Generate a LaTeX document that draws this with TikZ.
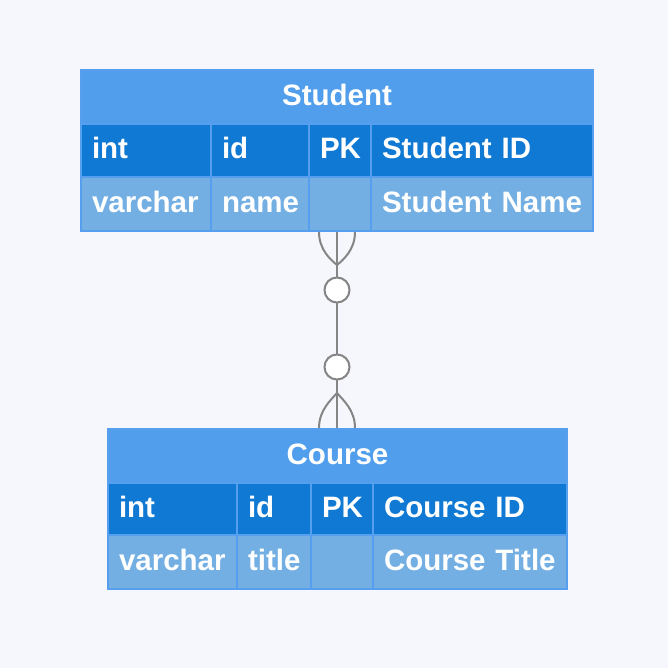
\documentclass[tikz,border=0pt]{standalone}
\usepackage{fontspec}
\setmainfont{Liberation Sans}
\usetikzlibrary{calc}

\definecolor{erbg}{HTML}{F5F7FC}
\definecolor{ertitle}{HTML}{519FEC}
\definecolor{erhead}{HTML}{0F79D3}
\definecolor{errow}{HTML}{73AFE3}
\definecolor{erborder}{HTML}{559FEE}
\definecolor{erline}{HTML}{858585}

\begin{document}
\begin{tikzpicture}[
                    x=1pt, y=-1pt,
                    font=\fontsize{29.5}{34}\selectfont\bfseries,
                    cell/.style={draw=erborder, line width=2pt, anchor=north west,
                                 inner xsep=11pt, inner ysep=0pt, align=left, text=white,
                                 text height=21pt, text depth=4pt},
                    titlecell/.style={cell, fill=ertitle, align=center, inner xsep=0pt},
                    headcell/.style={cell, fill=erhead},
                    rowcell/.style={cell, fill=errow},
                    rel/.style={draw=erline, line width=2pt},
                    optional/.style={circle, draw=erline, line width=2pt, fill=white,
                                     minimum size=25pt, inner sep=0pt}
                    ]

                    \fill[erbg] (0,0) rectangle (668,668);

                    % Student
                    \node [titlecell, minimum width=512pt, minimum height=54pt] (s-title) at (80,69) {Student};
                    \node [headcell, text width=108pt, minimum height=53pt] (s-type1) at (80,123) {int};
                    \node [headcell, text width=76pt, minimum height=53pt] (s-name1) at (210,123) {id};
                    \node [headcell, text width=40pt, minimum height=53pt] (s-key1) at (308,123) {PK};
                    \node [headcell, text width=200pt, minimum height=53pt] (s-desc1) at (370,123) {Student ID};
                    \node [rowcell, text width=108pt, minimum height=54pt] (s-type2) at (80,176) {varchar};
                    \node [rowcell, text width=76pt, minimum height=54pt] (s-name2) at (210,176) {name};
                    \node [rowcell, text width=40pt, minimum height=54pt] (s-key2) at (308,176) {};
                    \node [rowcell, text width=200pt, minimum height=54pt] (s-desc2) at (370,176) {Student Name};

                    % Course
                    \node [titlecell, minimum width=459pt, minimum height=54pt] (c-title) at (107,428) {Course};
                    \node [headcell, text width=107pt, minimum height=52pt] (c-type1) at (107,482) {int};
                    \node [headcell, text width=52pt, minimum height=52pt] (c-name1) at (236,482) {id};
                    \node [headcell, text width=40pt, minimum height=52pt] (c-key1) at (310,482) {PK};
                    \node [headcell, text width=172pt, minimum height=52pt] (c-desc1) at (372,482) {Course ID};
                    \node [rowcell, text width=107pt, minimum height=54pt] (c-type2) at (107,534) {varchar};
                    \node [rowcell, text width=52pt, minimum height=54pt] (c-name2) at (236,534) {title};
                    \node [rowcell, text width=40pt, minimum height=54pt] (c-key2) at (310,534) {};
                    \node [rowcell, text width=172pt, minimum height=54pt] (c-desc2) at (372,534) {Course Title};

                    % zero-or-many on both ends
                    \coordinate (s-end) at (s-title.center |- s-key2.south);
                    \coordinate (c-end) at (s-end |- c-title.north);

                    \draw[rel] (s-end) -- (c-end);
                    \draw[rel] ($(s-end)+(-18,0)$) .. controls ($(s-end)+(-18,18)$) and ($(s-end)+(-6,28)$) .. ($(s-end)+(0,33)$)
                               .. controls ($(s-end)+(6,28)$) and ($(s-end)+(18,18)$) .. ($(s-end)+(18,0)$);
                    \draw[rel] ($(c-end)+(-18,0)$) .. controls ($(c-end)+(-18,-18)$) and ($(c-end)+(-6,-28)$) .. ($(c-end)+(0,-35)$)
                               .. controls ($(c-end)+(6,-28)$) and ($(c-end)+(18,-18)$) .. ($(c-end)+(18,0)$);
                    \node [optional] (s-ring) at ($(s-end)+(0,58)$) {};
                    \node [optional] (c-ring) at ($(c-end)+(0,-61)$) {};
                \end{tikzpicture}
\end{document}
